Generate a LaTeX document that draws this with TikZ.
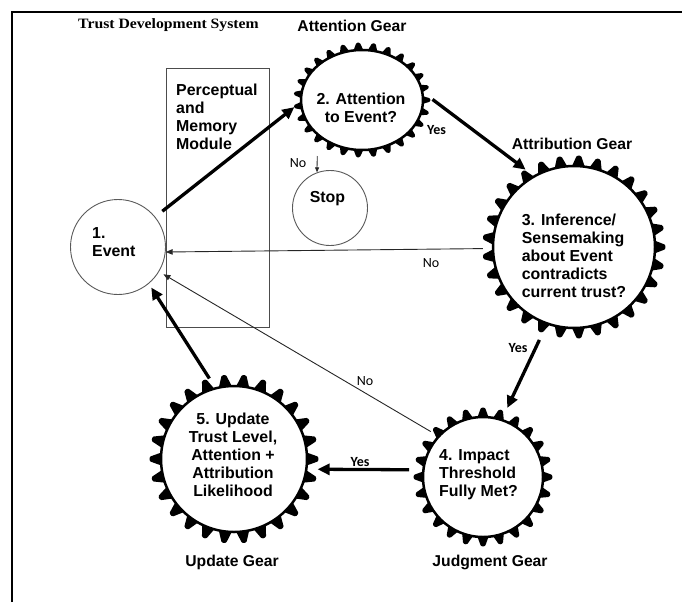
\documentclass[tikz,border=0pt]{standalone}
\usepackage{fontspec}
\setmainfont{Liberation Sans}
\newfontfamily\calfont{Carlito}
\newfontfamily\serfont{Liberation Serif}
\usetikzlibrary{arrows.meta,shapes.geometric,calc}

% cx, cy, inner rx, inner ry, tooth depth, number of teeth
\newcommand{\gearteeth}[6]{%
  \begin{scope}[shift={(#1,#2)}]
  \foreach \k in {1,...,#6}{
    \pgfmathsetmacro\pa{360/#6}
    \pgfmathsetmacro\aa{\pa*\k}
    \fill[black, rounded corners=1.2pt]
      ({\aa-0.45*\pa}:{#3-3} and {#4-3}) --
      ({\aa-0.11*\pa}:{#3+#5} and {#4+#5}) --
      ({\aa+0.11*\pa}:{#3+#5} and {#4+#5}) --
      ({\aa+0.45*\pa}:{#3-3} and {#4-3}) -- cycle;
  }
  \draw[line width=2.5pt, fill=white] (0,0) ellipse [x radius=#3, y radius=#4];
  \end{scope}
}

\begin{document}
\begin{tikzpicture}[x=1pt,y=-1pt,
  thickarrow/.style={line width=3.3pt, -{Triangle[length=12pt,width=11pt]}},
  thinarrow/.style={line width=0.9pt, draw=black!85, -{Triangle[length=7pt,width=5.5pt]}},
  geartxt/.style={font=\fontsize{15.9}{18}\selectfont\bfseries, inner sep=0pt},
  gearlbl/.style={font=\fontsize{15.7}{18}\selectfont\bfseries, inner sep=0pt},
  smalllbl/.style={font=\calfont\fontsize{14}{16}\selectfont, inner sep=0pt},
  yeslbl/.style={font=\calfont\bfseries\fontsize{14}{16}\selectfont, inner sep=0pt},
  outline/.style={draw=black!65, line width=0.9pt},
  gearnode/.style={inner sep=0pt, draw=none},
]
\useasboundingbox (0,0) rectangle (687,602);
\draw[line width=2pt] (12,602) -- (12,12) -- (682,12);

% gears
\gearteeth{362}{100}{61}{50}{7.5}{27}
\gearteeth{574}{247}{81}{81}{10.5}{29}
\gearteeth{483}{477}{60}{60}{9.5}{24}
\gearteeth{234}{459}{73}{73}{11.5}{26}

\node[gearnode, ellipse, minimum width=136pt, minimum height=114pt] (g2) at (362,100) {};
\node[gearnode, circle, minimum size=182pt] (g3) at (574,247) {};
\node[gearnode, circle, minimum size=138pt] (g4) at (483,477) {};
\node[gearnode, circle, minimum size=168pt] (g5) at (234,459) {};

% other shapes
\node[circle, outline, minimum size=95pt, inner sep=0pt] (ev) at (118,247) {};
\node[circle, outline, minimum size=75pt, inner sep=0pt] (stop) at (330,208) {};
\node[draw=black!70, line width=0.9pt, minimum width=103pt, minimum height=259pt, inner sep=0pt] (pm) at (217.5,197.5) {};

% texts
\node[inner sep=0pt, font=\serfont\bfseries\fontsize{14.3}{16}\selectfont] (title) at (168.5,25) {\scalebox{1.1}[1]{Trust Development System}};
\node[gearlbl] (l2) at (352,26) {Attention Gear};
\node[gearlbl] (l3) at (572,144) {Attribution Gear};
\node[gearlbl] (l5) at (232,562) {Update Gear};
\node[gearlbl] (l4) at (490,562) {Judgment Gear};

\node[geartxt, align=left, anchor=west] (evt) at (92,242.5) {1.\\Event};
\node[geartxt, align=left, anchor=west] (pmt) at (176,117) {Perceptual\\and\\Memory\\Module};
\node[geartxt] (stopt) at (327.5,198.5) {Stop};
\node[geartxt, align=center] (t2) at (361,108) {2. Attention\\to Event?};
\node[geartxt, align=left] (t3) at (574,255.5) {3. Inference/\\Sensemaking\\about Event\\contradicts\\current trust?};
\node[geartxt, align=left] (t4) at (478.5,475) {4. Impact\\Threshold\\Fully Met?};
\node[geartxt, align=center] (t5) at (233,455) {5. Update\\Trust Level,\\Attention +\\Attribution\\Likelihood};

% connectors
\draw[thickarrow, shorten <=9pt] (ev.39) -- (g2.186);
\draw[thickarrow, shorten <=3pt] (g2.2) -- (g3.122);
\draw[thinarrow] (g3.181) -- (ev.-6);
\draw[thickarrow, shorten <=8pt, shorten >=4pt] (g3.250) -- (g4.71);
\draw[thinarrow, shorten >=5pt] (g4.139) -- (ev.-31);
\draw[thickarrow, shorten <=5pt] (g4.174) -- (g5.-7);
\draw[thickarrow, shorten >=4.5pt] (g5.107) -- (ev.-50);
\coordinate (nostart) at (317.2,156);
\draw[thinarrow, line width=0.8pt, -{Triangle[length=5pt,width=4pt]}] (nostart) -- (stop.110);

% small labels
\node[yeslbl] (y1) at (436.5,130) {Yes};
\node[smalllbl] (n1) at (298,163) {No};
\node[smalllbl] (n2) at (431,263) {No};
\node[smalllbl] (n3) at (365,381) {No};
\node[yeslbl] (y2) at (518,348) {Yes};
\node[yeslbl] (y3) at (360,462) {Yes};
\end{tikzpicture}
\end{document}
